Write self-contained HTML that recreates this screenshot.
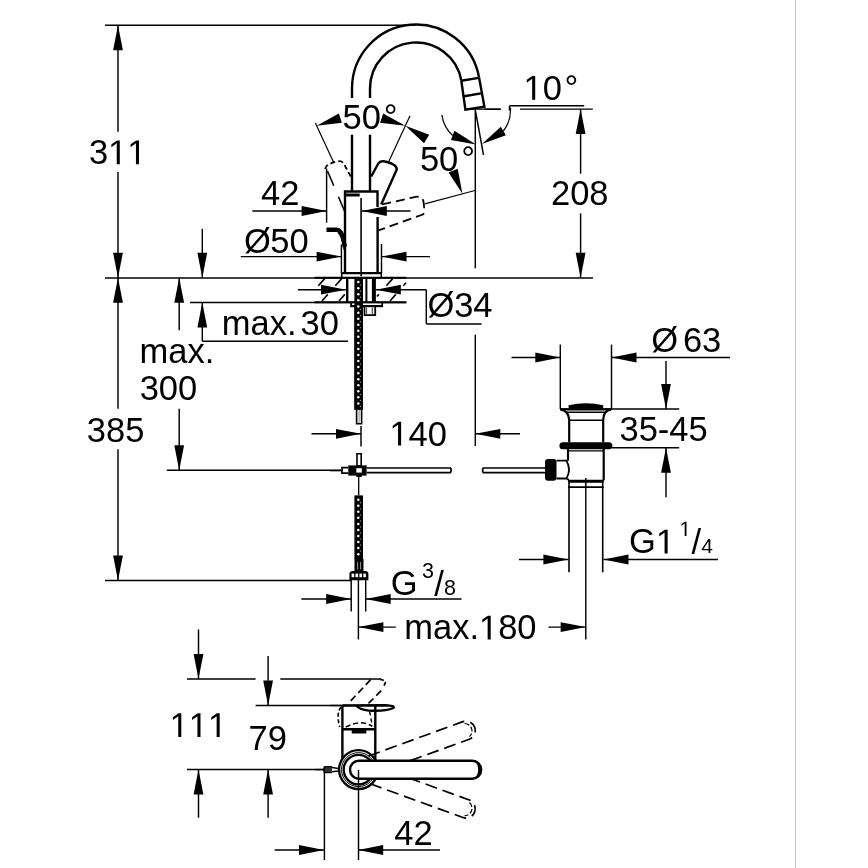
<!DOCTYPE html>
<html><head><meta charset="utf-8"><style>
html,body{margin:0;padding:0;background:#fff;width:868px;height:868px;overflow:hidden}
svg{display:block;will-change:transform}
text{font-family:"Liberation Sans",sans-serif;fill:#000;font-kerning:none}
</style></head><body>
<svg width="868" height="868" viewBox="0 0 868 868">
<rect x="795" y="0" width="1" height="868" fill="#c8c8c8"/>
<line x1="105" y1="25.3" x2="415" y2="25.3" stroke="#000" stroke-width="1.45" />
<line x1="118" y1="25.3" x2="118" y2="131.8" stroke="#000" stroke-width="1.45" />
<line x1="118" y1="171.9" x2="118" y2="277.8" stroke="#000" stroke-width="1.45" />
<path d="M118.00,25.30 L122.90,50.30 L113.10,50.30 Z" fill="#000"/>
<path d="M118.00,277.80 L113.10,252.80 L122.90,252.80 Z" fill="#000"/>
<line x1="105" y1="277.9" x2="593" y2="277.9" stroke="#000" stroke-width="1.45" />
<line x1="118" y1="277.8" x2="118" y2="408.8" stroke="#000" stroke-width="1.45" />
<line x1="118" y1="449.3" x2="118" y2="580.5" stroke="#000" stroke-width="1.45" />
<path d="M118.00,277.80 L122.90,302.80 L113.10,302.80 Z" fill="#000"/>
<path d="M118.00,580.50 L113.10,555.50 L122.90,555.50 Z" fill="#000"/>
<line x1="105" y1="580.5" x2="351" y2="580.5" stroke="#000" stroke-width="1.45" />
<text x="88.89" y="164.20" font-size="34.5">3</text>
<path transform="translate(108.07,164.20) scale(0.01685,-0.01685)" d="M515 0V1237L197 1010V1180L530 1409H696V0Z" fill="#000"/>
<path transform="translate(127.26,164.20) scale(0.01685,-0.01685)" d="M515 0V1237L197 1010V1180L530 1409H696V0Z" fill="#000"/>
<text x="86.79" y="441.50" font-size="34.5">385</text>
<line x1="202.3" y1="228.9" x2="202.3" y2="277.8" stroke="#000" stroke-width="1.45" />
<path d="M202.30,277.80 L197.40,252.80 L207.20,252.80 Z" fill="#000"/>
<line x1="202.3" y1="302.4" x2="202.3" y2="341.2" stroke="#000" stroke-width="1.45" />
<path d="M202.30,302.40 L207.20,327.40 L197.40,327.40 Z" fill="#000"/>
<line x1="202.3" y1="341.2" x2="348" y2="341.2" stroke="#000" stroke-width="1.45" />
<line x1="190" y1="302.4" x2="406.5" y2="302.4" stroke="#000" stroke-width="1.45" />
<text x="221.71" y="335.00" font-size="34.5">max.</text>
<text x="300.59" y="335.00" font-size="34.5">30</text>
<line x1="179.2" y1="277.8" x2="179.2" y2="330.3" stroke="#000" stroke-width="1.45" />
<path d="M179.20,277.80 L184.10,302.80 L174.30,302.80 Z" fill="#000"/>
<line x1="179.2" y1="408.8" x2="179.2" y2="470.2" stroke="#000" stroke-width="1.45" />
<path d="M179.20,470.20 L174.30,445.20 L184.10,445.20 Z" fill="#000"/>
<line x1="166.8" y1="470.2" x2="341" y2="470.2" stroke="#000" stroke-width="1.45" />
<text x="139.61" y="363.10" font-size="34.5">max.</text>
<text x="139.69" y="400.00" font-size="34.5">300</text>
<line x1="466" y1="109.1" x2="500.5" y2="109.1" stroke="#000" stroke-width="1.45" />
<line x1="520" y1="109.1" x2="592.8" y2="109.1" stroke="#000" stroke-width="1.45" />
<line x1="580.6" y1="109.1" x2="580.6" y2="173.7" stroke="#000" stroke-width="1.45" />
<line x1="580.6" y1="213.4" x2="580.6" y2="277.8" stroke="#000" stroke-width="1.45" />
<path d="M580.60,109.10 L585.50,134.10 L575.70,134.10 Z" fill="#000"/>
<path d="M580.60,277.80 L575.70,252.80 L585.50,252.80 Z" fill="#000"/>
<text x="550.96" y="205.30" font-size="34.5">208</text>
<line x1="509.5" y1="105.8" x2="584.2" y2="105.8" stroke="#000" stroke-width="1.45" />
<path transform="translate(523.48,99.70) scale(0.01685,-0.01685)" d="M515 0V1237L197 1010V1180L530 1409H696V0Z" fill="#000"/>
<text x="542.67" y="99.70" font-size="34.5">0</text>
<text x="564.44" y="99.70" font-size="34.5">°</text>
<line x1="475.3" y1="108.8" x2="475.3" y2="268.3" stroke="#000" stroke-width="1.45" />
<line x1="475.3" y1="334.7" x2="475.3" y2="446" stroke="#000" stroke-width="1.45" />
<line x1="475.6" y1="111.5" x2="483.5" y2="155" stroke="#000" stroke-width="1.45" />
<line x1="252.3" y1="211" x2="326.6" y2="211" stroke="#000" stroke-width="1.45" />
<path d="M326.60,211.00 L301.60,215.90 L301.60,206.10 Z" fill="#000"/>
<line x1="361.8" y1="211" x2="410.5" y2="211" stroke="#000" stroke-width="1.45" />
<path d="M361.80,211.00 L386.80,206.10 L386.80,215.90 Z" fill="#000"/>
<line x1="326.6" y1="168.6" x2="326.6" y2="222.6" stroke="#000" stroke-width="1.45" />
<text x="261.11" y="204.90" font-size="34.5">42</text>
<line x1="240.8" y1="256.6" x2="341.6" y2="256.6" stroke="#000" stroke-width="1.45" />
<path d="M341.60,256.60 L316.60,261.50 L316.60,251.70 Z" fill="#000"/>
<line x1="381.5" y1="256.6" x2="430" y2="256.6" stroke="#000" stroke-width="1.45" />
<path d="M381.50,256.60 L406.50,251.70 L406.50,261.50 Z" fill="#000"/>
<line x1="381.5" y1="244" x2="381.5" y2="273" stroke="#000" stroke-width="1.45" />
<text x="244.10" y="253.20" font-size="34.5">Ø</text>
<text x="270.32" y="253.20" font-size="34.5">50</text>
<line x1="297.9" y1="289.7" x2="346" y2="289.7" stroke="#000" stroke-width="1.45" />
<path d="M346.00,289.70 L321.00,294.60 L321.00,284.80 Z" fill="#000"/>
<line x1="375.8" y1="289.7" x2="426.3" y2="289.7" stroke="#000" stroke-width="1.45" />
<path d="M375.80,289.70 L400.80,284.80 L400.80,294.60 Z" fill="#000"/>
<line x1="426.3" y1="289.7" x2="426.3" y2="323.9" stroke="#000" stroke-width="1.45" />
<line x1="426.3" y1="323.9" x2="481.6" y2="323.9" stroke="#000" stroke-width="1.45" />
<text x="427.60" y="316.90" font-size="34.5">Ø</text>
<text x="454.19" y="316.90" font-size="34.5">34</text>
<line x1="511.5" y1="357.5" x2="560.3" y2="357.5" stroke="#000" stroke-width="1.45" />
<path d="M560.30,357.50 L535.30,362.40 L535.30,352.60 Z" fill="#000"/>
<line x1="611.5" y1="357.5" x2="730" y2="357.5" stroke="#000" stroke-width="1.45" />
<path d="M611.50,357.50 L636.50,352.60 L636.50,362.40 Z" fill="#000"/>
<line x1="560.3" y1="344.6" x2="560.3" y2="409" stroke="#000" stroke-width="1.45" />
<line x1="611.5" y1="344.6" x2="611.5" y2="409" stroke="#000" stroke-width="1.45" />
<text x="651.20" y="351.50" font-size="34.5">Ø</text>
<text x="682.95" y="351.50" font-size="34.5">63</text>
<line x1="666" y1="361" x2="666" y2="408.9" stroke="#000" stroke-width="1.45" />
<path d="M666.00,408.90 L661.10,383.90 L670.90,383.90 Z" fill="#000"/>
<line x1="666" y1="447.8" x2="666" y2="497.2" stroke="#000" stroke-width="1.45" />
<path d="M666.00,447.80 L670.90,472.80 L661.10,472.80 Z" fill="#000"/>
<line x1="560.3" y1="408.9" x2="679.2" y2="408.9" stroke="#000" stroke-width="1.45" />
<line x1="611.8" y1="447.8" x2="679.2" y2="447.8" stroke="#000" stroke-width="1.45" />
<text x="619.49" y="440.80" font-size="34.5">35-45</text>
<line x1="311.5" y1="433.8" x2="361" y2="433.8" stroke="#000" stroke-width="1.45" />
<path d="M361.00,433.80 L336.00,438.70 L336.00,428.90 Z" fill="#000"/>
<line x1="361" y1="426" x2="361" y2="446.5" stroke="#000" stroke-width="1.45" />
<line x1="475.3" y1="433.8" x2="520" y2="433.8" stroke="#000" stroke-width="1.45" />
<path d="M475.30,433.80 L500.30,428.90 L500.30,438.70 Z" fill="#000"/>
<path transform="translate(389.38,445.60) scale(0.01685,-0.01685)" d="M515 0V1237L197 1010V1180L530 1409H696V0Z" fill="#000"/>
<text x="408.57" y="445.60" font-size="34.5">40</text>
<line x1="519" y1="559.5" x2="568.4" y2="559.5" stroke="#000" stroke-width="1.45" />
<path d="M568.40,559.50 L543.40,564.40 L543.40,554.60 Z" fill="#000"/>
<line x1="603.5" y1="559.5" x2="718" y2="559.5" stroke="#000" stroke-width="1.45" />
<path d="M603.50,559.50 L628.50,554.60 L628.50,564.40 Z" fill="#000"/>
<text x="629.06" y="553.40" font-size="34.5">G</text>
<path transform="translate(655.90,553.40) scale(0.01685,-0.01685)" d="M515 0V1237L197 1010V1180L530 1409H696V0Z" fill="#000"/>
<path transform="translate(679.53,535.90) scale(0.01001,-0.01001)" d="M515 0V1237L197 1010V1180L530 1409H696V0Z" fill="#000"/>
<text x="691.60" y="553.70" font-size="34.5">/</text>
<text x="701.22" y="553.00" font-size="21">4</text>
<line x1="585.8" y1="478" x2="585.8" y2="639.4" stroke="#000" stroke-width="1.45" />
<line x1="301.4" y1="599" x2="351.2" y2="599" stroke="#000" stroke-width="1.45" />
<path d="M351.20,599.00 L326.20,603.90 L326.20,594.10 Z" fill="#000"/>
<line x1="365.7" y1="599" x2="461.5" y2="599" stroke="#000" stroke-width="1.45" />
<path d="M365.70,599.00 L390.70,594.10 L390.70,603.90 Z" fill="#000"/>
<line x1="351.2" y1="580" x2="351.2" y2="611.5" stroke="#000" stroke-width="1.45" />
<line x1="365.7" y1="580" x2="365.7" y2="611.5" stroke="#000" stroke-width="1.45" />
<line x1="358.4" y1="580" x2="358.4" y2="639.5" stroke="#000" stroke-width="1.45" />
<text x="390.66" y="595.30" font-size="34.5">G</text>
<text x="421.98" y="578.30" font-size="21.5">3</text>
<text x="434.30" y="595.60" font-size="34.5">/</text>
<text x="443.97" y="594.90" font-size="21.5">8</text>
<line x1="358.4" y1="627.1" x2="395.8" y2="627.1" stroke="#000" stroke-width="1.45" />
<path d="M358.40,627.10 L383.40,622.20 L383.40,632.00 Z" fill="#000"/>
<line x1="548.4" y1="627.1" x2="585.7" y2="627.1" stroke="#000" stroke-width="1.45" />
<path d="M585.70,627.10 L560.70,632.00 L560.70,622.20 Z" fill="#000"/>
<text x="404.21" y="639.40" font-size="34.5">max.</text>
<path transform="translate(478.97,639.40) scale(0.01685,-0.01685)" d="M515 0V1237L197 1010V1180L530 1409H696V0Z" fill="#000"/>
<text x="498.16" y="639.40" font-size="34.5">80</text>
<line x1="198.5" y1="629.5" x2="198.5" y2="679" stroke="#000" stroke-width="1.45" />
<path d="M198.50,679.00 L193.60,654.00 L203.40,654.00 Z" fill="#000"/>
<line x1="198.5" y1="769.4" x2="198.5" y2="817.7" stroke="#000" stroke-width="1.45" />
<path d="M198.50,769.40 L203.40,794.40 L193.60,794.40 Z" fill="#000"/>
<line x1="187" y1="679" x2="255.6" y2="679" stroke="#000" stroke-width="1.45" />
<line x1="280.3" y1="679" x2="381" y2="679" stroke="#000" stroke-width="1.45" />
<line x1="187" y1="769.4" x2="324" y2="769.4" stroke="#000" stroke-width="1.45" />
<line x1="268.1" y1="656.1" x2="268.1" y2="705.5" stroke="#000" stroke-width="1.45" />
<path d="M268.10,705.50 L263.20,680.50 L273.00,680.50 Z" fill="#000"/>
<line x1="268.1" y1="769.4" x2="268.1" y2="817.7" stroke="#000" stroke-width="1.45" />
<path d="M268.10,769.40 L273.00,794.40 L263.20,794.40 Z" fill="#000"/>
<line x1="255.6" y1="705.5" x2="346.8" y2="705.5" stroke="#000" stroke-width="1.45" />
<path transform="translate(169.58,737.10) scale(0.01685,-0.01685)" d="M515 0V1237L197 1010V1180L530 1409H696V0Z" fill="#000"/>
<path transform="translate(188.77,737.10) scale(0.01685,-0.01685)" d="M515 0V1237L197 1010V1180L530 1409H696V0Z" fill="#000"/>
<path transform="translate(207.96,737.10) scale(0.01685,-0.01685)" d="M515 0V1237L197 1010V1180L530 1409H696V0Z" fill="#000"/>
<text x="248.53" y="750.00" font-size="34.5">79</text>
<line x1="274.6" y1="850" x2="324" y2="850" stroke="#000" stroke-width="1.45" />
<path d="M324.00,850.00 L299.00,854.90 L299.00,845.10 Z" fill="#000"/>
<line x1="358.2" y1="850" x2="440" y2="850" stroke="#000" stroke-width="1.45" />
<path d="M358.20,850.00 L383.20,845.10 L383.20,854.90 Z" fill="#000"/>
<line x1="324.4" y1="769.6" x2="324.4" y2="860" stroke="#000" stroke-width="1.45" />
<text x="394.21" y="844.70" font-size="34.5">42</text>
<path d="M352,98 L352,88.5 A64,64 0 0 1 479.03,77.39" fill="none" stroke="#000" stroke-width="2.4" />
<path d="M352,134.7 L352,191" fill="none" stroke="#000" stroke-width="2.4" />
<path d="M370,98 L370,88.5 A46,46 0 0 1 461.3,80.51" fill="none" stroke="#000" stroke-width="2.4" />
<path d="M370,134.7 L370,191" fill="none" stroke="#000" stroke-width="2.4" />
<path d="M461.3,80.5 L465.4,109.6 L484.4,106.7 L479.03,77.39" fill="none" stroke="#000" stroke-width="2.4" stroke-linejoin="miter"/>
<path d="M461.3,80.7 L478.6,77.9" fill="none" stroke="#000" stroke-width="2.4" />
<path d="M464.2,96.3 L480.9,93.4" fill="none" stroke="#000" stroke-width="2.4" />
<path d="M345,273 L345,191.5 L377.5,191.5 L377.5,207" fill="none" stroke="#000" stroke-width="2.4" />
<path d="M377.6,217 L377.6,273" fill="none" stroke="#000" stroke-width="2.4" />
<path d="M345,195 L359.7,195" fill="none" stroke="#000" stroke-width="3" />
<line x1="361.1" y1="197.9" x2="361.1" y2="276.3" stroke="#000" stroke-width="1.6" />
<path d="M341.7,273.2 L381.3,273.2" fill="none" stroke="#000" stroke-width="2.2" />
<line x1="341.7" y1="273" x2="341.7" y2="277.5" stroke="#000" stroke-width="1.6" />
<line x1="381.3" y1="273" x2="381.3" y2="277.5" stroke="#000" stroke-width="1.6" />
<path d="M441.84,114.80 A34.5,34.5 0 0 0 452.70,135.44" fill="none" stroke="#111" stroke-width="1.3" />
<path d="M476.00,144.50 L450.92,140.01 L454.47,130.87 Z" fill="#000"/>
<path d="M510.42,107.59 A34.5,34.5 0 0 1 503.37,131.01" fill="none" stroke="#111" stroke-width="1.3" />
<path d="M481.99,143.98 L500.82,126.82 L505.91,135.20 Z" fill="#000"/>
<line x1="509.5" y1="105.8" x2="509.5" y2="110.5" stroke="#000" stroke-width="1.45" />
<line x1="484.4" y1="109.3" x2="501" y2="109.3" stroke="#000" stroke-width="1.45" />
<path d="M316.63,125.84 L338.85,113.39 L341.91,122.70 Z" fill="#000"/>
<path d="M405.37,125.84 L380.09,122.70 L383.15,113.39 Z" fill="#000"/>
<path d="M405.37,125.84 L429.20,134.86 L424.03,143.19 Z" fill="#000"/>
<path d="M462.42,193.82 L448.57,172.44 L457.67,168.80 Z" fill="#000"/>
<line x1="333.95" y1="163.0" x2="315.36" y2="123.12" stroke="#000" stroke-width="1.2" />
<line x1="388.89" y1="161.18" x2="410.02" y2="115.87" stroke="#000" stroke-width="1.2" />
<line x1="424.75" y1="203.92" x2="474.98" y2="190.46" stroke="#000" stroke-width="1.2" />
<path d="M350.8,176.5 L343.7,163.5 Q342,160.8 338.5,161.3 Q331,162.5 326.8,165.8 Q324.4,168.3 325.7,170.6" fill="none" stroke="#000" stroke-width="1.8" stroke-dasharray="5,3"/>
<path d="M327.5,171 L344.5,211" fill="none" stroke="#000" stroke-width="1.6" stroke-dasharray="16,12"/>
<path d="M371.2,176.5 L378.3,163.5 Q380,160.8 383.5,161.3 Q391,162.5 395.2,165.8 Q397.6,168.3 396.3,170.6 L381.2,204.5" fill="none" stroke="#000" stroke-width="2.4" stroke-linejoin="round"/>
<path d="M382.3,204.3 L416,196.8 Q421.5,196 423.4,201 L424.6,211.5 Q424,214.3 421.5,215 L378.6,230.3" fill="none" stroke="#000" stroke-width="1.8" stroke-dasharray="9,5"/>
<path d="M326.5,229.8 L336.5,229.8 C340.5,230 342.5,235 343.5,240 L344.8,247" fill="none" stroke="#000" stroke-width="4.4" stroke-linecap="butt"/>
<path d="M338,233 C341,236 343,242 344,250" fill="none" stroke="#000" stroke-width="1" />
<text x="342.52" y="128.50" font-size="34.5">50</text>
<text x="383.74" y="128.50" font-size="34.5">°</text>
<text x="419.92" y="170.50" font-size="34.5">50</text>
<text x="461.14" y="170.50" font-size="34.5">°</text>
<line x1="341.4" y1="244.5" x2="341.4" y2="273" stroke="#000" stroke-width="1.45" />
<line x1="314.6" y1="277.8" x2="406.2" y2="277.8" stroke="#000" stroke-width="2.0" />
<line x1="314.6" y1="302.3" x2="406.2" y2="302.3" stroke="#000" stroke-width="2.0" />
<line x1="324.67" y1="278.6" x2="318.35" y2="285.8" stroke="#000" stroke-width="1.6" />
<line x1="341.67" y1="278.6" x2="335.35" y2="285.8" stroke="#000" stroke-width="1.6" />
<line x1="327.81" y1="294.4" x2="322.02" y2="301.0" stroke="#000" stroke-width="1.6" />
<line x1="344.81" y1="294.4" x2="339.02" y2="301.0" stroke="#000" stroke-width="1.6" />
<line x1="392.67" y1="278.6" x2="386.35" y2="285.8" stroke="#000" stroke-width="1.6" />
<line x1="378.81" y1="294.4" x2="377.0" y2="296.47" stroke="#000" stroke-width="1.6" />
<line x1="406.0" y1="282.78" x2="403.35" y2="285.8" stroke="#000" stroke-width="1.6" />
<line x1="395.81" y1="294.4" x2="390.02" y2="301.0" stroke="#000" stroke-width="1.6" />
<line x1="347.2" y1="277.8" x2="347.2" y2="302.3" stroke="#000" stroke-width="2.4" />
<line x1="373.9" y1="277.8" x2="373.9" y2="302.3" stroke="#000" stroke-width="4.0" />
<line x1="366.4" y1="277.8" x2="366.4" y2="302.3" stroke="#000" stroke-width="2.0" />
<rect x="354.4" y="277.8" width="8.600000000000023" height="131.89999999999998" fill="#000"/>
<circle cx="358.30" cy="282.10" r="1.25" fill="#fff"/>
<circle cx="360.40" cy="285.10" r="0.6" fill="#bbb"/>
<circle cx="358.30" cy="288.15" r="1.25" fill="#fff"/>
<circle cx="360.40" cy="291.15" r="0.6" fill="#bbb"/>
<circle cx="358.30" cy="294.20" r="1.25" fill="#fff"/>
<circle cx="360.40" cy="297.20" r="0.6" fill="#bbb"/>
<circle cx="358.30" cy="300.25" r="1.25" fill="#fff"/>
<circle cx="360.40" cy="303.25" r="0.6" fill="#bbb"/>
<circle cx="358.30" cy="306.30" r="1.25" fill="#fff"/>
<circle cx="360.40" cy="309.30" r="0.6" fill="#bbb"/>
<circle cx="358.30" cy="312.35" r="1.25" fill="#fff"/>
<circle cx="360.40" cy="315.35" r="0.6" fill="#bbb"/>
<circle cx="358.30" cy="318.40" r="1.25" fill="#fff"/>
<circle cx="360.40" cy="321.40" r="0.6" fill="#bbb"/>
<circle cx="358.30" cy="324.45" r="1.25" fill="#fff"/>
<circle cx="360.40" cy="327.45" r="0.6" fill="#bbb"/>
<circle cx="358.30" cy="330.50" r="1.25" fill="#fff"/>
<circle cx="360.40" cy="333.50" r="0.6" fill="#bbb"/>
<circle cx="358.30" cy="336.55" r="1.25" fill="#fff"/>
<circle cx="360.40" cy="339.55" r="0.6" fill="#bbb"/>
<circle cx="358.30" cy="342.60" r="1.25" fill="#fff"/>
<circle cx="360.40" cy="345.60" r="0.6" fill="#bbb"/>
<circle cx="358.30" cy="348.65" r="1.25" fill="#fff"/>
<circle cx="360.40" cy="351.65" r="0.6" fill="#bbb"/>
<circle cx="358.30" cy="354.70" r="1.25" fill="#fff"/>
<circle cx="360.40" cy="357.70" r="0.6" fill="#bbb"/>
<circle cx="358.30" cy="360.75" r="1.25" fill="#fff"/>
<circle cx="360.40" cy="363.75" r="0.6" fill="#bbb"/>
<circle cx="358.30" cy="366.80" r="1.25" fill="#fff"/>
<circle cx="360.40" cy="369.80" r="0.6" fill="#bbb"/>
<circle cx="358.30" cy="372.85" r="1.25" fill="#fff"/>
<circle cx="360.40" cy="375.85" r="0.6" fill="#bbb"/>
<circle cx="358.30" cy="378.90" r="1.25" fill="#fff"/>
<circle cx="360.40" cy="381.90" r="0.6" fill="#bbb"/>
<circle cx="358.30" cy="384.95" r="1.25" fill="#fff"/>
<circle cx="360.40" cy="387.95" r="0.6" fill="#bbb"/>
<circle cx="358.30" cy="391.00" r="1.25" fill="#fff"/>
<circle cx="360.40" cy="394.00" r="0.6" fill="#bbb"/>
<circle cx="358.30" cy="397.05" r="1.25" fill="#fff"/>
<circle cx="360.40" cy="400.05" r="0.6" fill="#bbb"/>
<circle cx="358.30" cy="403.10" r="1.25" fill="#fff"/>
<circle cx="360.40" cy="406.10" r="0.6" fill="#bbb"/>
<rect x="350.2" y="301.8" width="32.9" height="5.4" fill="#000"/>
<rect x="352" y="303.4" width="8.3" height="1.6" fill="#fff"/>
<rect x="361.8" y="303.4" width="19.5" height="1.6" fill="#fff"/>
<path d="M364.5,307 L364.5,315.2 L375.2,315.2 L375.2,307" fill="none" stroke="#000" stroke-width="1.8" />
<line x1="366.6" y1="307.5" x2="366.6" y2="314.5" stroke="#444" stroke-width="1.0" />
<line x1="372.3" y1="307.5" x2="372.3" y2="314.5" stroke="#444" stroke-width="1.2" />
<rect x="354.4" y="302.3" width="8.600000000000023" height="107.39999999999998" fill="#000"/>
<circle cx="358.30" cy="306.60" r="1.25" fill="#fff"/>
<circle cx="360.40" cy="309.60" r="0.6" fill="#bbb"/>
<circle cx="358.30" cy="312.65" r="1.25" fill="#fff"/>
<circle cx="360.40" cy="315.65" r="0.6" fill="#bbb"/>
<circle cx="358.30" cy="318.70" r="1.25" fill="#fff"/>
<circle cx="360.40" cy="321.70" r="0.6" fill="#bbb"/>
<circle cx="358.30" cy="324.75" r="1.25" fill="#fff"/>
<circle cx="360.40" cy="327.75" r="0.6" fill="#bbb"/>
<circle cx="358.30" cy="330.80" r="1.25" fill="#fff"/>
<circle cx="360.40" cy="333.80" r="0.6" fill="#bbb"/>
<circle cx="358.30" cy="336.85" r="1.25" fill="#fff"/>
<circle cx="360.40" cy="339.85" r="0.6" fill="#bbb"/>
<circle cx="358.30" cy="342.90" r="1.25" fill="#fff"/>
<circle cx="360.40" cy="345.90" r="0.6" fill="#bbb"/>
<circle cx="358.30" cy="348.95" r="1.25" fill="#fff"/>
<circle cx="360.40" cy="351.95" r="0.6" fill="#bbb"/>
<circle cx="358.30" cy="355.00" r="1.25" fill="#fff"/>
<circle cx="360.40" cy="358.00" r="0.6" fill="#bbb"/>
<circle cx="358.30" cy="361.05" r="1.25" fill="#fff"/>
<circle cx="360.40" cy="364.05" r="0.6" fill="#bbb"/>
<circle cx="358.30" cy="367.10" r="1.25" fill="#fff"/>
<circle cx="360.40" cy="370.10" r="0.6" fill="#bbb"/>
<circle cx="358.30" cy="373.15" r="1.25" fill="#fff"/>
<circle cx="360.40" cy="376.15" r="0.6" fill="#bbb"/>
<circle cx="358.30" cy="379.20" r="1.25" fill="#fff"/>
<circle cx="360.40" cy="382.20" r="0.6" fill="#bbb"/>
<circle cx="358.30" cy="385.25" r="1.25" fill="#fff"/>
<circle cx="360.40" cy="388.25" r="0.6" fill="#bbb"/>
<circle cx="358.30" cy="391.30" r="1.25" fill="#fff"/>
<circle cx="360.40" cy="394.30" r="0.6" fill="#bbb"/>
<circle cx="358.30" cy="397.35" r="1.25" fill="#fff"/>
<circle cx="360.40" cy="400.35" r="0.6" fill="#bbb"/>
<circle cx="358.30" cy="403.40" r="1.25" fill="#fff"/>
<circle cx="360.40" cy="406.40" r="0.6" fill="#bbb"/>
<path d="M356.6,409.7 L356.6,423.8 L361.6,423.8 L361.6,409.7" fill="none" stroke="#000" stroke-width="1.6" />
<line x1="359.1" y1="410" x2="359.1" y2="423" stroke="#999" stroke-width="1.2" />
<path d="M357,453.8 L361.2,453.8 L361.2,466 L357,466 Z" fill="none" stroke="#000" stroke-width="1.6" />
<rect x="348.3" y="465.4" width="18.3" height="10.2" fill="#000"/>
<rect x="356.3" y="468.2" width="5.5" height="4.4" fill="#fff"/>
<rect x="356.3" y="475" width="5.5" height="2" fill="#000"/>
<path d="M348.3,467.6 L342,467.6 L342,473.2 L348.3,473.2" fill="none" stroke="#000" stroke-width="1.7" />
<line x1="330" y1="470.6" x2="342" y2="470.6" stroke="#000" stroke-width="1.45" />
<path d="M366.6,468 L451,468 M366.6,472.6 L451,472.6 M451,468 L451,472.6" fill="none" stroke="#000" stroke-width="1.7" />
<path d="M482.7,468 L546,468 M482.7,472.6 L546,472.6 M482.7,468 L482.7,472.6" fill="none" stroke="#000" stroke-width="1.7" />
<line x1="358.7" y1="476" x2="358.7" y2="495.4" stroke="#000" stroke-width="1.3" />
<rect x="354.4" y="495.4" width="8.600000000000023" height="63.60000000000002" fill="#000"/>
<circle cx="358.30" cy="499.70" r="1.25" fill="#fff"/>
<circle cx="360.40" cy="502.70" r="0.6" fill="#bbb"/>
<circle cx="358.30" cy="505.75" r="1.25" fill="#fff"/>
<circle cx="360.40" cy="508.75" r="0.6" fill="#bbb"/>
<circle cx="358.30" cy="511.80" r="1.25" fill="#fff"/>
<circle cx="360.40" cy="514.80" r="0.6" fill="#bbb"/>
<circle cx="358.30" cy="517.85" r="1.25" fill="#fff"/>
<circle cx="360.40" cy="520.85" r="0.6" fill="#bbb"/>
<circle cx="358.30" cy="523.90" r="1.25" fill="#fff"/>
<circle cx="360.40" cy="526.90" r="0.6" fill="#bbb"/>
<circle cx="358.30" cy="529.95" r="1.25" fill="#fff"/>
<circle cx="360.40" cy="532.95" r="0.6" fill="#bbb"/>
<circle cx="358.30" cy="536.00" r="1.25" fill="#fff"/>
<circle cx="360.40" cy="539.00" r="0.6" fill="#bbb"/>
<circle cx="358.30" cy="542.05" r="1.25" fill="#fff"/>
<circle cx="360.40" cy="545.05" r="0.6" fill="#bbb"/>
<circle cx="358.30" cy="548.10" r="1.25" fill="#fff"/>
<circle cx="360.40" cy="551.10" r="0.6" fill="#bbb"/>
<circle cx="358.30" cy="554.15" r="1.25" fill="#fff"/>
<path d="M355.6,559 L355.6,571 M362.4,559 L362.4,571" fill="none" stroke="#000" stroke-width="2.2" />
<rect x="355" y="559" width="8" height="12" fill="#000"/>
<line x1="357.7" y1="562" x2="357.7" y2="569.5" stroke="#aaa" stroke-width="0.9" />
<line x1="360.6" y1="562" x2="360.6" y2="569.5" stroke="#aaa" stroke-width="0.9" />
<path d="M349.4,580.3 L349.4,574 Q349.4,571 353,571 L365,571 Q368.4,571 368.4,574 L368.4,580.3 Z" fill="#000"/>
<rect x="351.6" y="573.6" width="2.6" height="3.6" fill="#fff"/>
<rect x="355.5" y="573.6" width="2.6" height="3.6" fill="#fff"/>
<rect x="359.4" y="573.6" width="2.6" height="3.6" fill="#fff"/>
<rect x="363.3" y="573.6" width="2.6" height="3.6" fill="#fff"/>
<path d="M568.6,408.8 L568.6,405.2 Q586,401.2 603.2,405.2 L603.2,408.8 Z" fill="#000"/>
<line x1="560.2" y1="409.4" x2="611.2" y2="409.4" stroke="#000" stroke-width="2.2" />
<line x1="565" y1="412.3" x2="605" y2="412.3" stroke="#000" stroke-width="1.4" />
<path d="M560.5,409.6 Q568.5,410.5 569.2,419.8 L569.2,442.2" fill="none" stroke="#000" stroke-width="2.2" />
<path d="M610.9,409.6 Q603.5,410.5 603.2,419.8 L603.2,442.2" fill="none" stroke="#000" stroke-width="2.2" />
<line x1="568.6" y1="420.3" x2="603.2" y2="420.3" stroke="#000" stroke-width="1.5" />
<rect x="559.4" y="442.2" width="53" height="7" rx="3.5" fill="#000"/>
<line x1="568" y1="450.9" x2="604" y2="450.9" stroke="#000" stroke-width="1.2" />
<path d="M568,449 L568,460.7 M568,478.5 L568,480.3 M603.7,449 L603.7,480.3" fill="none" stroke="#000" stroke-width="2.2" />
<path d="M556.5,460.7 L566.5,460.7 Q571.5,469.6 566.5,478.5 L556.5,478.5" fill="none" stroke="#000" stroke-width="1.8" />
<rect x="545" y="458.9" width="11.5" height="21.9" rx="3" fill="#000"/>
<line x1="568" y1="481.2" x2="603.7" y2="481.2" stroke="#000" stroke-width="3" />
<line x1="568" y1="487.2" x2="603.7" y2="487.2" stroke="#000" stroke-width="1.8" />
<path d="M569,480 L569,572.2 M602.7,480 L602.7,572.2" fill="none" stroke="#000" stroke-width="1.6" />
<path d="M370.6,679.7 L349.8,701.8" fill="none" stroke="#000" stroke-width="1.7" stroke-dasharray="7,4"/>
<path d="M379.8,679.4 Q385.5,680 385.3,683 L383.5,686.6" fill="none" stroke="#000" stroke-width="1.7" stroke-dasharray="4,2"/>
<path d="M381.2,690.7 L366.9,705" fill="none" stroke="#000" stroke-width="1.7" stroke-dasharray="7,4"/>
<line x1="330" y1="705.5" x2="342" y2="705.5" stroke="#000" stroke-width="1.45" />
<path d="M342.4,705.5 L342.4,760 M375.3,706 L375.3,760" fill="none" stroke="#000" stroke-width="2.4" />
<line x1="342.4" y1="729.2" x2="375.3" y2="729.2" stroke="#000" stroke-width="2.6" />
<rect x="351.7" y="729" width="14.7" height="4.6" rx="1" fill="#000"/>
<path d="M342.4,705.5 L385.3,705.3 Q395.5,705.8 393.5,708 Q385,711.5 368.7,710.6 Q360,709.5 356.7,706" fill="none" stroke="#000" stroke-width="2.4" stroke-linejoin="round"/>
<path d="M341,706.9 Q336,713 339.7,727.1" fill="none" stroke="#000" stroke-width="1.6" stroke-dasharray="4,2.5"/>
<path d="M345.7,727.1 Q360.4,719 372.4,726.2" fill="none" stroke="#000" stroke-width="1.6" stroke-dasharray="5,3"/>
<path d="M369.6,711.5 L372,724" fill="none" stroke="#000" stroke-width="1.4" stroke-dasharray="4,3"/>
<circle cx="358.5" cy="769.6" r="19.4" fill="#fff" stroke="#000" stroke-width="2.3"/>
<circle cx="358.5" cy="769.6" r="17.0" fill="none" stroke="#000" stroke-width="1.0"/>
<circle cx="358.5" cy="769.6" r="14.8" fill="none" stroke="#000" stroke-width="2.3"/>
<path d="M368.46,756.03 L462.90,721.65 A9.35,9.35 0 0 1 469.29,739.22 L374.85,773.60" fill="none" stroke="#000" stroke-width="1.7" stroke-dasharray="12,6"/>
<path d="M374.85,765.60 L469.29,799.98 A9.35,9.35 0 0 1 462.90,817.55 L368.46,783.17" fill="none" stroke="#000" stroke-width="1.7" stroke-dasharray="12,6"/>
<path d="M468.40,730.44" fill="none" stroke="#000" stroke-width="0" />
<path d="M464.64,723.52 A7.5,7.5 0 0 1 469.43,736.67" fill="none" stroke="#000" stroke-width="1.2" stroke-dasharray="5,2"/>
<path d="M473.19,808.76" fill="none" stroke="#000" stroke-width="0" />
<path d="M469.43,802.53 A7.5,7.5 0 0 1 464.64,815.68" fill="none" stroke="#000" stroke-width="1.2" stroke-dasharray="5,2"/>
<rect x="350" y="760.7" width="131.2" height="18" rx="9" fill="#fff" stroke="#000" stroke-width="2.4"/>
<path d="M472.2,760.7 A9,9 0 0 1 472.2,778.7 A6,9 0 0 0 472.2,760.7 Z" fill="#000"/>
<line x1="358.5" y1="770" x2="358.5" y2="860" stroke="#000" stroke-width="1.45" />
<line x1="315" y1="769.6" x2="324.2" y2="769.6" stroke="#000" stroke-width="1.45" />
<path d="M332,767 L325,767 Q324.2,767 324.2,768 L324.2,771.5 Q324.2,772.4 325,772.4 L332,772.4" fill="none" stroke="#000" stroke-width="1.8" />
<rect x="325" y="767.2" width="7" height="5" fill="#333"/>
<path d="M332,767.6 L338.5,768.4 M332,771.8 L338.5,771" fill="none" stroke="#000" stroke-width="1.5" />
</svg></body></html>
